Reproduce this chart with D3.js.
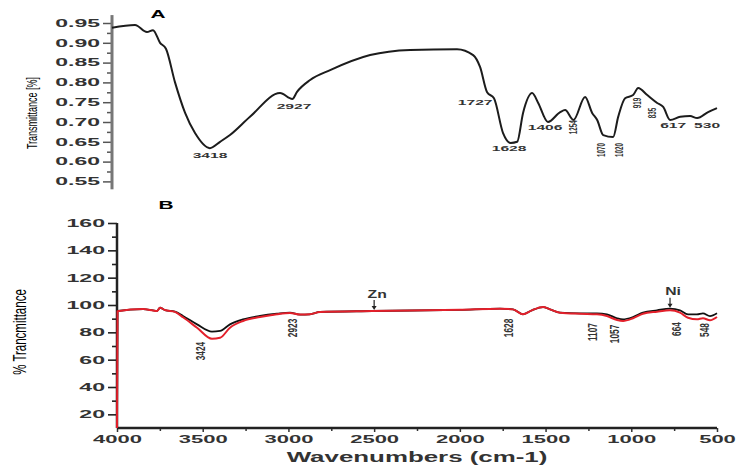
<!DOCTYPE html>
<html lang="en">
<head>
<meta charset="UTF-8">
<title>FTIR spectra A and B</title>
<script src="https://d3js.org/d3.v7.min.js"></script>
<style>
  body { margin: 0; background: #fff; }
  svg { display: block; }
  text { font-family: "Liberation Sans", Arial, sans-serif; }
</style>
</head>
<body>
<script>
// ---- panel A data ----
const waveA = [4000, 3863, 3792, 3756, 3714, 3679, 3625, 3565, 3506, 3418,
  3357, 3298, 3179, 3000, 2927, 2899, 2821, 2702, 2464, 2226,
  1947, 1851, 1810, 1768, 1727, 1673, 1628, 1589, 1554, 1500,
  1464, 1406, 1333, 1304, 1254, 1185, 1143, 1113, 1077, 1018,
  988, 947, 899, 869, 815, 756, 720, 679, 619, 560,
  518, 453, 400];
const transA = [0.938, 0.945, 0.927, 0.932, 0.900, 0.885, 0.80, 0.723, 0.672, 0.634,
  0.650, 0.667, 0.713, 0.773, 0.758, 0.776, 0.806, 0.831, 0.869, 0.882,
  0.884, 0.869, 0.839, 0.775, 0.76, 0.672, 0.647, 0.65, 0.723, 0.773,
  0.748, 0.70, 0.725, 0.73, 0.705, 0.763, 0.723, 0.705, 0.667, 0.662,
  0.713, 0.76, 0.768, 0.786, 0.768, 0.748, 0.738, 0.705, 0.713, 0.715,
  0.71, 0.725, 0.735];
const ticksA = [0.55, 0.60, 0.65, 0.70, 0.75, 0.80, 0.85, 0.90, 0.95];
const minorA = [0.575, 0.625, 0.675, 0.725, 0.775, 0.825, 0.875, 0.925];

// peak labels in A: text, where the label sits (wavenumber, transmittance)
const peakTextA = ["3418", "2927", "1727", "1628", "1406", "617", "530"];
const peakWaveA = [3417, 2917, 1839, 1637, 1423, 661, 459];
const peakValA  = [0.614, 0.738, 0.748, 0.632, 0.685, 0.69, 0.69];
const vPeakTextA = ["1254", "1070", "1020", "919", "835"];
const vPeakWaveA = [1256, 1089, 982, 875, 786];
const vPeakValA  = [0.687, 0.629, 0.629, 0.748, 0.723];

// ---- panel B data ----
const waveB = [4000, 3997, 3848, 3790, 3767, 3749, 3720, 3662, 3615, 3533,
  3446, 3399, 3341, 3265, 3166, 3067, 2991, 2932, 2875, 2816,
  2513, 2000, 1766, 1690, 1632, 1580, 1515, 1474, 1416, 1299,
  1200, 1142, 1083, 1048, 990, 932, 850, 774, 716, 669,
  617, 582, 541, 500];
const blackB = [10, 95.6, 97, 96, 95.6, 98, 96.3, 95.1, 92, 85.8,
  80.5, 81, 85.8, 89.5, 92, 93.6, 94.4, 93, 93.2, 94.9,
  95.6, 96.5, 97.3, 96.8, 93.2, 96.1, 98.5, 96.8, 94.4, 93.9,
  93.9, 93.2, 90.3, 89.5, 91.2, 94.4, 96.1, 97.3, 96.1, 93.2,
  93.2, 93.9, 91.9, 93.9];
const redB = [10, 95.4, 97, 96, 95.6, 98, 96.3, 95, 91, 83.4,
  75.3, 76, 83.4, 88.3, 91.2, 93.3, 94.2, 93, 93.2, 94.9,
  95.6, 96.5, 97.3, 96.8, 93.2, 96.1, 98.5, 96.8, 94.4, 93.6,
  93.2, 91.9, 89, 88.3, 90.3, 93.6, 95.1, 96.1, 94.4, 90.7,
  89.5, 90.3, 88.8, 91.2];
const ticksBy = [20, 40, 60, 80, 100, 120, 140, 160];
const minorBy = [30, 50, 70, 90, 110, 130, 150];
const ticksBx = [4000, 3500, 3000, 2500, 2000, 1500, 1000, 500];
const minorBx = [3750, 3250, 2750, 2250, 1750, 1250, 750];

const peakTextB = ["3424", "2923", "1628", "1107", "1057", "664", "548"];
const peakWaveB = [3516, 2979, 1719, 1229, 1101, 739, 576];
const peakValB  = [66.3, 83.2, 83.2, 80.2, 78.8, 82.4, 81.7];
const markerName = ["Zn", "Ni"];
const markerWave = [2500, 774];

const W = 737, H = 465;
const svg = d3.select('body').append('svg')
  .attr('width', W).attr('height', H);

// stretched text helpers (the figure is squeezed horizontally wide)
function hText(g, x, y, str, size, sx, weight, anchor) {
  return g.append('text')
    .attr('transform', `translate(${x},${y}) scale(${sx},1)`)
    .attr('text-anchor', anchor || 'middle')
    .attr('dy', '0.35em')
    .style('font-size', size + 'px')
    .style('font-weight', weight || 'bold')
    .text(str);
}
function vText(g, x, y, str, size, sy, weight, family) {
  return g.append('text')
    .attr('transform', `translate(${x},${y}) rotate(-90) scale(1,${sy})`)
    .attr('text-anchor', 'middle')
    .attr('dy', '0.35em')
    .style('font-size', size + 'px')
    .style('font-weight', weight || 'bold')
    .style('font-family', family || null)
    .text(str);
}

// ================= Panel A =================
const xA = d3.scaleLinear().domain([4000, 400]).range([112, 717]);
const yA = d3.scaleLinear().domain([0.55, 0.95]).range([181.4, 23]);

const gA = svg.append('g');
const axA = gA.append('g').attr('transform', 'translate(112,0)');
const majA = axA.append('g').call(d3.axisLeft(yA).tickValues(ticksA).tickSize(9).tickPadding(3)
  .tickFormat(d3.format('.2f')).tickSizeOuter(0));
const minA = axA.append('g').call(d3.axisLeft(yA).tickValues(minorA).tickSize(5)
  .tickFormat('').tickSizeOuter(0));
axA.selectAll('.domain').remove();
axA.append('line').attr('x1', 0).attr('x2', 0)
  .attr('y1', yA(0.97)).attr('y2', yA(0.53))
  .attr('stroke', '#777').attr('stroke-width', 3);
axA.selectAll('.tick line').attr('stroke', '#555').attr('stroke-width', 1.5);
majA.selectAll('.tick text')
  .attr('x', -12 / 2.3)
  .attr('transform', 'scale(2.3,1)')
  .style('font-size', '10px').style('font-weight', 'bold')
  .attr('fill', '#333');

const lineA = d3.line().x((d, i) => xA(waveA[i])).y(d => yA(d)).curve(d3.curveMonotoneX);
gA.append('path').datum(transA)
  .attr('d', lineA).attr('fill', 'none')
  .attr('stroke', '#1c1c1c').attr('stroke-width', 2);

peakTextA.forEach((t, i) => {
  hText(gA, xA(peakWaveA[i]), yA(peakValA[i]), t, 6.5, 2.4).attr('fill', '#333');
});
vPeakTextA.forEach((t, i) => {
  vText(gA, xA(vPeakWaveA[i]), yA(vPeakValA[i]), t, 6.3, 1.7).attr('fill', '#333');
});

hText(gA, 158, 14, 'A', 11, 1.9);
vText(gA, 32, 113, 'Transmittance [%]', 9, 1.6, 'normal', '"Liberation Sans Narrow", "Liberation Sans", Arial');

// ================= Panel B =================
const xB = d3.scaleLinear().domain([4000, 500]).range([117, 717]);
const yB = d3.scaleLinear().domain([10, 160]).range([428, 223]);

const gB = svg.append('g');
const ayB = gB.append('g').attr('transform', 'translate(117,0)');
const majBy = ayB.append('g').call(d3.axisLeft(yB).tickValues(ticksBy).tickSize(9)
  .tickPadding(3).tickSizeOuter(0));
ayB.append('g').call(d3.axisLeft(yB).tickValues(minorBy).tickSize(5)
  .tickFormat('').tickSizeOuter(0));
ayB.selectAll('.domain').remove();
ayB.selectAll('.tick line').attr('stroke', '#222').attr('stroke-width', 1.6);
majBy.selectAll('.tick text')
  .attr('x', -12 / 2.2)
  .attr('transform', 'scale(2.2,1)')
  .style('font-size', '10.5px').style('font-weight', 'bold')
  .attr('fill', '#333');
ayB.append('line').attr('x1', 0).attr('x2', 0)
  .attr('y1', yB(160)).attr('y2', yB(10))
  .attr('stroke', '#222').attr('stroke-width', 2.5);

const axB = gB.append('g').attr('transform', 'translate(0,428)');
const majBx = axB.append('g').call(d3.axisBottom(xB).tickValues(ticksBx).tickSize(4)
  .tickPadding(3).tickFormat(d3.format('d')).tickSizeOuter(0));
axB.append('g').call(d3.axisBottom(xB).tickValues(minorBx).tickSize(3)
  .tickFormat('').tickSizeOuter(0));
axB.selectAll('.domain').remove();
axB.selectAll('.tick line').attr('stroke', '#333').attr('stroke-width', 1.5);
majBx.selectAll('.tick text')
  .attr('transform', 'scale(2.0,1)')
  .style('font-size', '11px').style('font-weight', 'bold')
  .attr('fill', '#333');
axB.append('line').attr('x1', xB(4000)).attr('x2', xB(500))
  .attr('y1', 0).attr('y2', 0)
  .attr('stroke', '#222').attr('stroke-width', 2.5);

const lineB = series => d3.line()
  .x((d, i) => xB(waveB[i])).y(d => yB(d)).curve(d3.curveMonotoneX)(series);
gB.append('path').attr('d', lineB(blackB)).attr('fill', 'none')
  .attr('stroke', '#111').attr('stroke-width', 1.8);
gB.append('path').attr('d', lineB(redB)).attr('fill', 'none')
  .attr('stroke', '#e3202b').attr('stroke-width', 2);

peakTextB.forEach((t, i) => {
  vText(gB, xB(peakWaveB[i]), yB(peakValB[i]), t, 8.3, 1.6).attr('fill', '#333');
});

// element markers with small arrows
const interp = (arrX, arrY, x) => {
  for (let i = 1; i < arrX.length; i++) {
    if (x >= arrX[i]) {
      const t = (x - arrX[i - 1]) / (arrX[i] - arrX[i - 1]);
      return arrY[i - 1] + t * (arrY[i] - arrY[i - 1]);
    }
  }
  return arrY[arrY.length - 1];
};
markerName.forEach((n, i) => {
  const mx = xB(markerWave[i]);
  const tip = yB(interp(waveB, blackB, markerWave[i])) - 1;
  gB.append('line').attr('x1', mx).attr('x2', mx)
    .attr('y1', tip - 10).attr('y2', tip - 3)
    .attr('stroke', '#222').attr('stroke-width', 1.2);
  gB.append('path')
    .attr('d', `M${mx - 2.5},${tip - 4}L${mx + 2.5},${tip - 4}L${mx},${tip}Z`)
    .attr('fill', '#222');
  hText(gB, mx + 3, tip - 16, n, 10.5, 1.5).attr('fill', '#333');
});

hText(gB, 166, 205, 'B', 11, 1.9);
vText(gB, 20, 332, '% Trancmittance', 11.5, 1.6, 'normal');
hText(gB, 417, 457, 'Wavenumbers (cm-1)', 14, 1.85).attr('fill', '#333');
</script>
</body>
</html>
